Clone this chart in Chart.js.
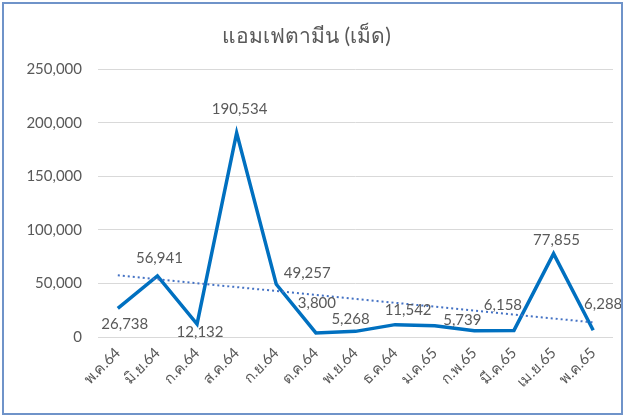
<!DOCTYPE html>
<html>
<head>
<meta charset="utf-8">
<script src="https://cdn.jsdelivr.net/npm/chart.js@4"></script>
<style>
  html, body { margin: 0; padding: 0; background: #fff; }
  #wrap { width: 625px; height: 417px; position: relative; }
</style>
</head>
<body>
<div id="wrap"><canvas id="chart" width="625" height="417"></canvas></div>
<script>
const months = ['พ.ค.64', 'มิ.ย.64', 'ก.ค.64', 'ส.ค.64', 'ก.ย.64', 'ต.ค.64', 'พ.ย.64',
    'ธ.ค.64', 'ม.ค.65', 'ก.พ.65', 'มี.ค.65', 'เม.ย.65', 'พ.ค.65'];
const pills = [26738, 56941, 12132, 190534, 49257, 3800, 5268, 11542, 10500, 5739, 6158, 77855, 6288];
// which points carry a value label (one point in the source has none)
const showLabel = [true, true, true, true, true, true, true, true, false, true, true, true, true];
const yTicks = [0, 50000, 100000, 150000, 200000, 250000];

// label placement relative to the point (dx, dy of text centre)
const labelOffsets = [[7, 16], [2, -18], [3, 8], [3, -24], [31, -11], [1, -30], [-5, -12],
    [13, -14], [0, 0], [-12, -11], [-11, -25], [3, -13], [10, -26]];

// least squares trend line, same as Excel's linear trendline
function linearTrend(vals) {
    const n = vals.length;
    const mx = (n - 1) / 2;
    const my = vals.reduce((a, b) => a + b, 0) / n;
    let sxy = 0, sxx = 0;
    vals.forEach((v, i) => { sxy += (i - mx) * (v - my); sxx += (i - mx) * (i - mx); });
    const slope = sxy / sxx;
    return vals.map((v, i) => my + slope * (i - mx));
}
const trend = linearTrend(pills);

const fmt = v => v.toLocaleString('en-US');
const textColor = '#595959';
const fontFamily = 'Lato, "Noto Sans", sans-serif';

const frame = {
    id: 'frame',
    beforeDraw(chart) {
        const c = chart.ctx;
        c.save();
        c.fillStyle = '#fff';
        c.fillRect(0, 0, chart.width, chart.height);
        c.restore();
    },
    afterDraw(chart) {
        const c = chart.ctx;
        c.save();
        c.strokeStyle = '#6f93c9';
        c.lineWidth = 2;
        c.strokeRect(3, 3, chart.width - 6, chart.height - 6);
        c.restore();
    }
};

const valueLabels = {
    id: 'valueLabels',
    afterDatasetsDraw(chart) {
        const meta = chart.getDatasetMeta(0);
        const c = chart.ctx;
        c.save();
        c.font = '15px ' + fontFamily;
        c.fillStyle = textColor;
        c.textAlign = 'center';
        c.textBaseline = 'middle';
        meta.data.forEach((pt, i) => {
            if (!showLabel[i]) return;
            const off = labelOffsets[i];
            c.fillText(fmt(pills[i]), pt.x + off[0], pt.y + off[1]);
        });
        c.restore();
    }
};

new Chart(document.getElementById('chart'), {
    type: 'line',
    data: {
        labels: months,
        datasets: [
            {
                label: 'แอมเฟตามีน',
                data: pills,
                borderColor: '#0070C0',
                borderWidth: 3.5,
                pointRadius: 0,
                tension: 0,
                order: 1
            },
            {
                label: 'Linear',
                data: trend,
                borderColor: '#4472C4',
                borderWidth: 2,
                borderDash: [2, 3],
                pointRadius: 0,
                order: 0
            }
        ]
    },
    options: {
        responsive: false,
        animation: false,
        layout: { padding: { left: 0, right: 12, top: 0, bottom: 0 } },
        plugins: {
            legend: { display: false },
            tooltip: { enabled: false },
            title: {
                display: true,
                text: 'แอมเฟตามีน (เม็ด)',
                color: textColor,
                font: { size: 21, family: fontFamily, weight: 'normal' },
                padding: { top: 24, bottom: 20 }
            }
        },
        scales: {
            x: {
                offset: true,
                grid: { display: false, drawTicks: false },
                border: { display: false },
                ticks: {
                    color: textColor,
                    font: { size: 15, family: fontFamily },
                    minRotation: 45,
                    maxRotation: 45,
                    padding: 7
                },
                afterFit(scale) { scale.height = 80; }
            },
            y: {
                min: 0,
                max: 250000,
                afterBuildTicks(scale) { scale.ticks = yTicks.map(v => ({ value: v })); },
                grid: { color: '#d9d9d9', lineWidth: 1, drawTicks: false },
                border: { display: false },
                ticks: {
                    color: textColor,
                    font: { size: 15, family: fontFamily },
                    padding: 16,
                    callback: v => fmt(v)
                },
                afterFit(scale) { scale.width = 98; }
            }
        }
    },
    plugins: [frame, valueLabels]
});
</script>
</body>
</html>
